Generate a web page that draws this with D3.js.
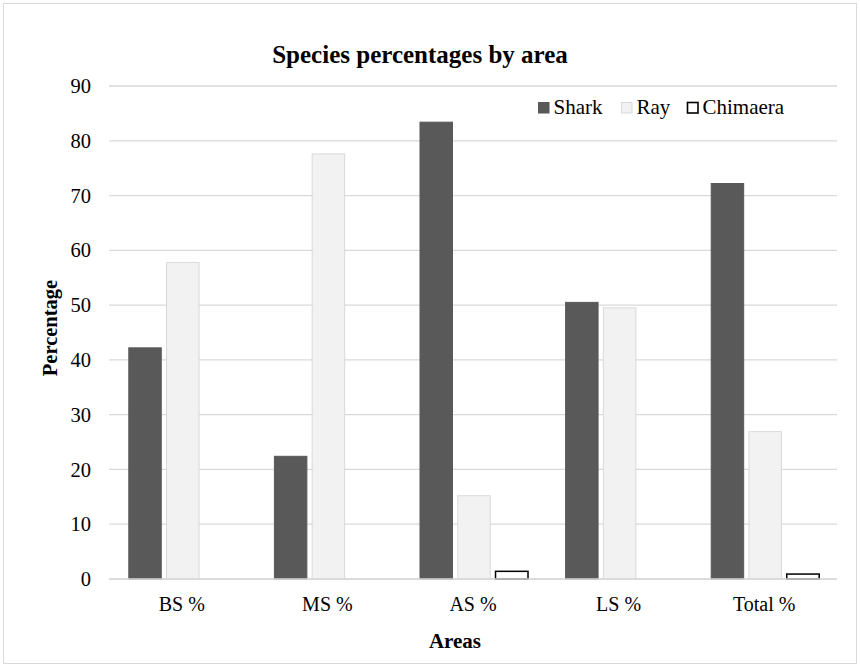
<!DOCTYPE html>
<html>
<head>
<meta charset="utf-8">
<script src="https://cdn.jsdelivr.net/npm/d3@7"></script>
<style>
  body { margin: 0; background: #fff; }
  text { font-family: "Liberation Serif", "Times New Roman", serif; fill: #000; }
</style>
</head>
<body>
<svg id="chart" width="861" height="668"></svg>
<script>
var areas = ["BS %", "MS %", "AS %", "LS %", "Total %"];
var seriesNames = ["Shark", "Ray", "Chimaera"];
var shark = [42.2, 22.4, 83.4, 50.5, 72.2];
var ray = [57.8, 77.6, 15.2, 49.5, 26.9];
var chimaera = [0, 0, 1.4, 0, 0.9];
var yTicks = [0, 10, 20, 30, 40, 50, 60, 70, 80, 90];

var svg = d3.select("#chart");
var plotLeft = 109, plotRight = 837, plotTop = 86, plotBottom = 579;

// outer border
svg.append("rect")
  .attr("x", 3.5).attr("y", 3.5).attr("width", 853).attr("height", 660)
  .attr("fill", "#fff").attr("stroke", "#d9d9d9");

var y = d3.scaleLinear().domain([0, 90]).range([plotBottom, plotTop]);
var x0 = d3.scaleBand().domain(areas).range([plotLeft, plotRight]);
var x1 = d3.scaleBand().domain(seriesNames).range([0, 108]).paddingInner(0.14);
var offset = (x0.bandwidth() - 108) / 2 + 1;

// gridlines
svg.append("g").selectAll("line").data(yTicks).enter().append("line")
  .attr("x1", plotLeft).attr("x2", plotRight)
  .attr("y1", function(d) { return y(d); }).attr("y2", function(d) { return y(d); })
  .attr("stroke", "#d9d9d9").attr("stroke-width", 1.3);

// y axis labels
var yAxis = d3.axisLeft(y).tickValues(yTicks).tickSize(0).tickPadding(18);
var gy = svg.append("g").attr("transform", "translate(" + plotLeft + ",0)").call(yAxis);
gy.select(".domain").remove();
gy.selectAll("text").style("font-size", "20.5px").style("font-family", "Liberation Serif");

var fills = { Shark: "#595959", Ray: "#f2f2f2", Chimaera: "#ffffff" };
var strokes = { Shark: "#595959", Ray: "#d9d9d9", Chimaera: "#000000" };
var values = { Shark: shark, Ray: ray, Chimaera: chimaera };

var rows = [];
areas.forEach(function(a, i) {
  seriesNames.forEach(function(s) {
    rows.push({ area: a, series: s, value: values[s][i] });
  });
});

svg.append("g").selectAll("rect")
  .data(rows.filter(function(d) { return d.value > 0; }))
  .enter().append("rect")
  .attr("x", function(d) { return x0(d.area) + offset + x1(d.series); })
  .attr("y", function(d) { return y(d.value); })
  .attr("width", x1.bandwidth())
  .attr("height", function(d) { return y(0) - y(d.value); })
  .attr("fill", function(d) { return fills[d.series]; })
  .attr("stroke", function(d) { return strokes[d.series]; })
  .attr("stroke-width", function(d) { return d.series === "Chimaera" ? 1.5 : 1; });

// x axis baseline
svg.append("line")
  .attr("x1", plotLeft).attr("x2", plotRight).attr("y1", y(0)).attr("y2", y(0))
  .attr("stroke", "#d9d9d9").attr("stroke-width", 1.3);

var xAxis = d3.axisBottom(x0).tickSize(0).tickPadding(18);
var gx = svg.append("g").attr("transform", "translate(0," + plotBottom + ")").call(xAxis);
gx.select(".domain").remove();
gx.selectAll("text").style("font-size", "20px").style("font-family", "Liberation Serif");

// titles
svg.append("text").attr("x", 420).attr("y", 63).attr("text-anchor", "middle")
  .style("font-size", "25px").style("font-weight", "bold").text("Species percentages by area");
svg.append("text").attr("x", 455).attr("y", 648).attr("text-anchor", "middle")
  .style("font-size", "21px").style("font-weight", "bold").text("Areas");
svg.append("text").attr("transform", "translate(57,328) rotate(-90)").attr("text-anchor", "middle")
  .style("font-size", "20.5px").style("font-weight", "bold").text("Percentage");

// legend
var legendX = [538, 621, 687];
var lg = svg.append("g").selectAll("g").data(seriesNames).enter().append("g")
  .attr("transform", function(d, i) { return "translate(" + legendX[i] + ",102)"; });
lg.append("rect").attr("x", 0.5).attr("y", 0.5).attr("width", 10.5).attr("height", 10.5)
  .attr("fill", function(d) { return fills[d]; })
  .attr("stroke", function(d) { return strokes[d]; })
  .attr("stroke-width", function(d) { return d === "Chimaera" ? 1.6 : 1; });
lg.append("text").attr("x", 15.5).attr("y", 12)
  .style("font-size", "21px").text(function(d) { return d; });
</script>
</body>
</html>
